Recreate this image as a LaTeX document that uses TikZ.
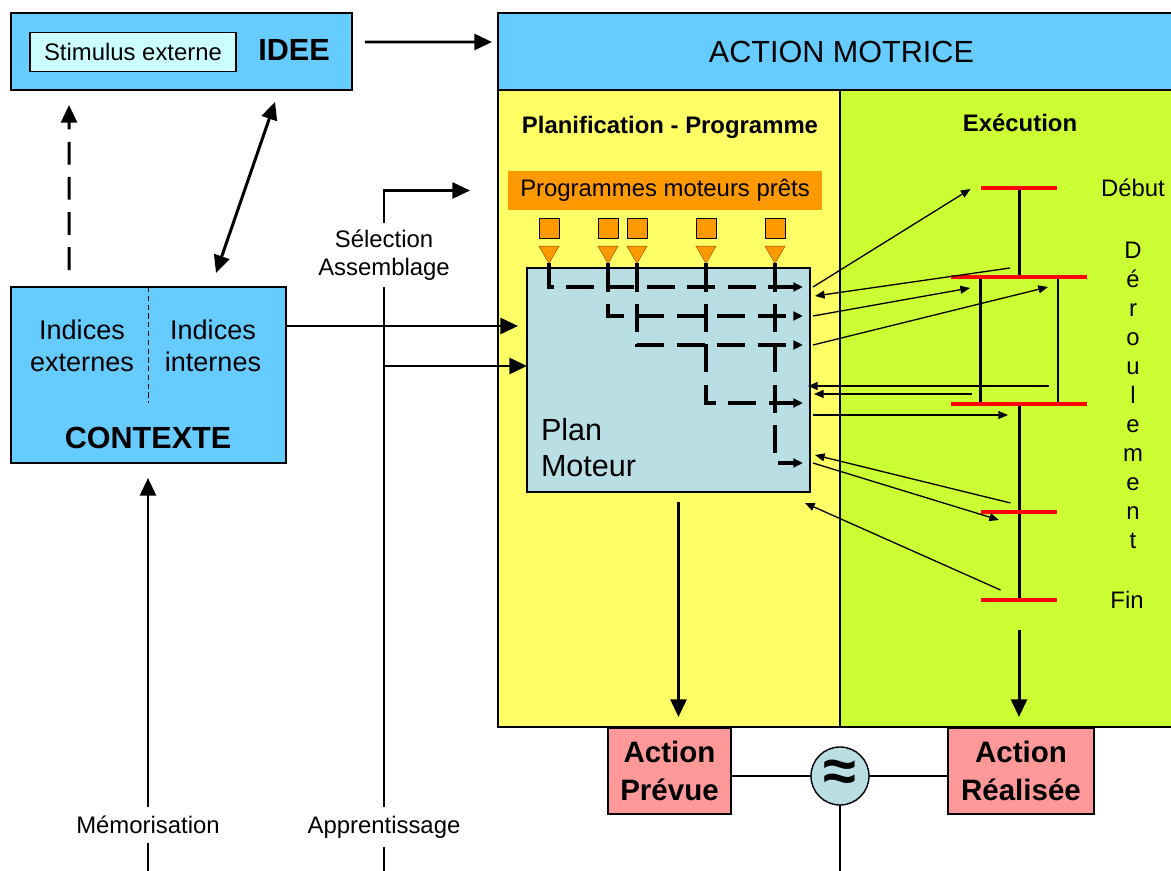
\documentclass[tikz,border=0pt]{standalone}
\usepackage{fontspec}
\setmainfont{Liberation Sans}
\usetikzlibrary{arrows.meta,shapes.geometric}
\definecolor{bleuboite}{HTML}{66CCFF}
\definecolor{bleuclair}{HTML}{CCFFFF}
\definecolor{bleuplan}{HTML}{B9DFE4}
\definecolor{jaune}{HTML}{FFFF66}
\definecolor{vertexec}{HTML}{CCFF33}
\definecolor{orangeprog}{HTML}{FF9900}
\definecolor{rose}{HTML}{FF9999}

\begin{document}
\begin{tikzpicture}[
                x=0.02cm, y=-0.02cm,
                every node/.style={inner sep=0pt, outer sep=0pt},
                boite/.style={draw, rectangle, line width=0.8pt},
                petit/.style={font=\fontsize{13.6}{16}\selectfont},
                moyen/.style={font=\fontsize{15.4}{18}\selectfont, align=center},
                grand/.style={font=\fontsize{17.4}{20.5}\selectfont, align=center},
                gras/.style={font=\bfseries\fontsize{17.4}{20.5}\selectfont},
                titre/.style={font=\bfseries\fontsize{13.6}{16}\selectfont},
                action/.style={font=\bfseries\fontsize{16.8}{21.5}\selectfont, align=center},
                fleche/.style={line width=1.7pt, -{Triangle[length=10pt,width=9pt]}},
                doublefleche/.style={line width=1.7pt, {Triangle[length=10pt,width=9pt]}-{Triangle[length=10pt,width=9pt]}},
                fine/.style={line width=0.75pt, -{Triangle[length=5.5pt,width=4.5pt]}},
                prog/.style={line width=1.8pt, dash pattern=on 16pt off 7pt, -{Triangle[length=5.5pt,width=5pt]}},
                trait/.style={line width=1.7pt},
                barre/.style={fill=red, minimum height=0.07cm},
                carre/.style={draw, line width=0.5pt, fill=orangeprog, minimum size=0.4cm},
                pointe/.style={regular polygon, regular polygon sides=3, shape border rotate=180, draw=orangeprog!70!black, line width=0.4pt, fill=orangeprog, minimum size=0.46cm}
            ]

            \useasboundingbox (0,0) rectangle (1171,871);
            \coordinate (bas) at (0,871);

            \node[boite, fill=bleuboite, minimum width=6.82cm, minimum height=1.54cm] (idee) at (181.5,51.5) {};
            \node[boite, line width=0.6pt, fill=bleuclair, minimum width=4.12cm, minimum height=0.78cm, petit] (stimulus) at (133,52) {Stimulus externe};
            \node[gras] (ideetxt) at (294,50) {IDEE};

            \node[boite, fill=bleuboite, minimum width=5.5cm, minimum height=3.52cm] (contexte) at (148.5,375) {};
            \draw[dash pattern=on 3pt off 2pt, line width=0.6pt] (contexte.north) -- ++(0,116);
            \node[moyen] (externes) at (82,346) {Indices\\externes};
            \node[moyen] (internes) at (213,346) {Indices\\internes};
            \node[gras] (contextetxt) at (148,438) {CONTEXTE};

            \node[boite, fill=jaune, anchor=north west, minimum width=6.84cm, minimum height=12.74cm] (planif) at (498,90) {};
            \node[boite, fill=vertexec, anchor=north west, minimum width=6.9cm, minimum height=12.74cm] (execution) at (840,90) {};
            \node[boite, fill=bleuboite, anchor=north west, minimum width=13.74cm, minimum height=1.54cm, grand] (motrice) at (498,13) {ACTION MOTRICE};
            \node[titre] (planiftxt) at (670,127) {Planification - Programme};
            \node[titre] (exectxt) at (1020,123) {Exécution};

            \node[fill=orangeprog, minimum width=6.28cm, minimum height=0.78cm, petit] (progs) at (665,190.5) {Programmes moteurs prêts};
            \node[boite, fill=bleuplan, minimum width=5.66cm, minimum height=4.48cm] (plan) at (668.5,380) {};
            \node[grand, align=left, anchor=west] (plantxt) at (541,448) {Plan\\Moteur};

            \foreach \i/\x in {1/549,2/608,3/637,4/706,5/775}{
                \node[carre] (carre\i) at (\x,228) {};
                \node[pointe] (pointe\i) at (\x,252) {};
            }

            \draw[prog] (pointe1.corner 1) |- ([shift={(-7,-93)}]plan.east);
            \draw[prog] (pointe2.corner 1) |- ([shift={(-7,-64)}]plan.east);
            \draw[prog] (pointe3.corner 1) |- ([shift={(-7,-35)}]plan.east);
            \draw[prog] (pointe4.corner 1) |- ([shift={(-7,23)}]plan.east);
            \draw[prog] (pointe5.corner 1) |- ([shift={(-7,83)}]plan.east);

            \node[barre, minimum width=1.54cm] (debut) at (1019,188) {};
            \node[barre, minimum width=2.72cm] (phase1) at (1019,277) {};
            \node[barre, minimum width=2.72cm] (phase2) at (1019,404) {};
            \node[barre, minimum width=1.54cm] (etape) at (1019,512) {};
            \node[barre, minimum width=1.54cm] (fin) at (1019,600) {};

            \draw[trait] (debut) -- (phase1);
            \draw[trait] ([xshift=-0.78cm]phase1.south) -- ([xshift=-0.78cm]phase2.north);
            \draw[trait] ([xshift=0.78cm]phase1.south) -- ([xshift=0.78cm]phase2.north);
            \draw[trait] (phase2) -- (etape);
            \draw[trait] (etape) -- (fin);

            \node[petit] (debuttxt) at (1133,188) {Début};
            \node[petit] (fintxt) at (1127,600) {Fin};
            \node[font=\fontsize{13.6}{16.5}\selectfont, align=center] (deroul) at (1133,395) {D\\é\\r\\o\\u\\l\\e\\m\\e\\n\\t};

            \draw[fine] ([shift={(3,-93)}]plan.east) -- ([shift={(-10,1)}]debut.west);
            \draw[fine] ([shift={(-9,-9)}]phase1.center) -- ([shift={(5,-84)}]plan.east);
            \draw[fine] ([shift={(3,-64)}]plan.east) -- ([shift={(-49,11)}]phase1.center);
            \draw[fine] ([shift={(3,-35)}]plan.east) -- ([shift={(29,10)}]phase1.center);
            \draw[fine] ([shift={(30,-18)}]phase2.center) -- ([shift={(-2,6)}]plan.east);
            \draw[fine] ([shift={(-47,-10)}]phase2.center) -- ([shift={(4,14)}]plan.east);
            \draw[fine] ([shift={(3,35)}]plan.east) -- ([shift={(-11,11)}]phase2.center);
            \draw[fine] ([shift={(-8.5,-9)}]etape.center) -- ([shift={(5,75)}]plan.east);
            \draw[fine] ([shift={(3,83)}]plan.east) -- ([shift={(-20,8)}]etape.center);
            \draw[fine] ([shift={(-18.5,-10)}]fin.center) -- ([shift={(-5,123)}]plan.east);

            \draw[fleche, dash pattern=on 13pt off 7pt] ([shift={(58,-17)}]contexte.north west) -- ([shift={(58,15)}]idee.south west);
            \draw[doublefleche] ([shift={(205,-14)}]contexte.north west) -- ([shift={(264,12)}]idee.south west);
            \draw[fleche] ([shift={(13,29)}]idee.north east) -- ([shift={(-6,29)}]motrice.north west);

            \coordinate (entree1) at ([shift={(0,-49)}]contexte.east);
            \draw[fleche, shorten >=0.18cm] (entree1) -- (entree1 -| plan.west);

            \node[petit, align=center, inner sep=4pt] (selection) at (384,255) {Sélection\\Assemblage};
            \draw[fleche] (selection.north) |- ([xshift=-0.76cm]progs.west);
            \node[petit, inner sep=5pt] (apprent) at (384,827) {Apprentissage};
            \draw[trait] (selection.south) -- (apprent.north);
            \draw[trait] (apprent.south) -- (apprent.south |- bas);
            \coordinate (entree2) at ([shift={(0,-14)}]plan.west);
            \draw[fleche] (entree2 -| selection.south) -- (entree2);

            \node[petit, inner sep=5pt] (memo) at (148,825) {Mémorisation};
            \draw[fleche, shorten >=0.3cm] (memo.north) -- (memo.north |- contexte.south);
            \draw[trait] (memo.south) -- (memo.south |- bas);

            \node[boite, fill=rose, minimum width=2.46cm, minimum height=1.72cm, action] (prevue) at (669.5,771) {Action\\Prévue};
            \node[boite, fill=rose, minimum width=2.92cm, minimum height=1.72cm, action] (realisee) at (1021,771) {Action\\Réalisée};
            \node[circle, draw, line width=0.8pt, fill=bleuplan, minimum size=1.16cm, font=\bfseries\fontsize{34}{34}\selectfont] (approx) at (840,776) {≈};
            \draw[line width=1.2pt] (approx.west -| prevue.east) -- (approx.west);
            \draw[line width=1.2pt] (approx.east) -- (approx.east -| realisee.west);
            \draw[line width=1.4pt] (approx.south) -- (approx.south |- bas);

            \coordinate (sortie1) at ([shift={(10,10)}]plan.south);
            \draw[fleche, shorten >=0.22cm] (sortie1) -- (sortie1 |- prevue.north);
            \draw[fleche, shorten <=0.56cm, shorten >=0.22cm] (fin) -- (fin |- realisee.north);

        \end{tikzpicture}
\end{document}
